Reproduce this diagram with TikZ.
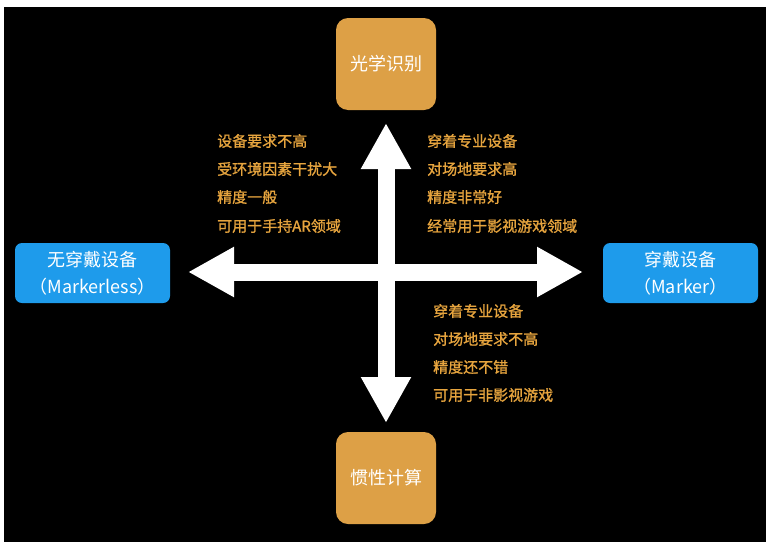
\documentclass[tikz,border=0pt]{standalone}
\usepackage{fontspec}
\setmainfont{Noto Sans CJK SC}
\newfontfamily\listfont[FakeBold=1.2]{Noto Sans CJK SC}
\usetikzlibrary{arrows.meta}
\definecolor{boxorange}{HTML}{DDA046}
\definecolor{boxblue}{HTML}{1E9BEB}
\definecolor{txtorange}{HTML}{E6A43E}
\tikzset{
  obox/.style={fill=boxorange, rounded corners=12pt, minimum width=100pt, minimum height=92pt, inner sep=0pt, text=white, font=\fontsize{18}{22}\selectfont},
  bbox/.style={fill=boxblue, rounded corners=7pt, minimum width=155pt, minimum height=60pt, inner sep=0pt, text=white, align=center, font=\fontsize{18}{27}\selectfont},
  item/.style={anchor=west, inner sep=0pt, text=txtorange, font=\listfont\fontsize{15}{18}\selectfont},
  bigarrow/.style={draw=white, line width=17pt, {Triangle[length=46pt,width=47pt]}-{Triangle[length=46pt,width=47pt]}}
}
\begin{document}
\begin{tikzpicture}[x=1pt,y=-1pt]
\useasboundingbox (0,0) rectangle (770,549);
\fill[white] (0,0) rectangle (770,549);
\fill[black] (4,7) rectangle (766,542);

\node[obox] (top) at (386,64) {光学识别};
\node[obox] (bottom) at (386,478) {惯性计算};
\node[bbox] (left) at (92.5,273) {无穿戴设备\\（Markerless）};
\node[bbox] (right) at (680.5,273) {穿戴设备\\（Marker）};

\coordinate (L) at (188,272);
\coordinate (R) at (583,272);
\coordinate (U) at (386,123);
\coordinate (D) at (386,423);
\draw[bigarrow] (L) -- (R);
\draw[bigarrow] (U) -- (D);

\node[item] (a1) at (217,141) {设备要求不高};
\node[item] (a2) at (217,169) {受环境因素干扰大};
\node[item] (a3) at (217,197) {精度一般};
\node[item] (a4) at (217,226) {可用于手持AR领域};

\node[item] (b1) at (427,141) {穿着专业设备};
\node[item] (b2) at (427,169) {对场地要求高};
\node[item] (b3) at (427,197) {精度非常好};
\node[item] (b4) at (427,226) {经常用于影视游戏领域};

\node[item] (c1) at (433,311) {穿着专业设备};
\node[item] (c2) at (433,339) {对场地要求不高};
\node[item] (c3) at (433,367) {精度还不错};
\node[item] (c4) at (433,395) {可用于非影视游戏};
\end{tikzpicture}
\end{document}
